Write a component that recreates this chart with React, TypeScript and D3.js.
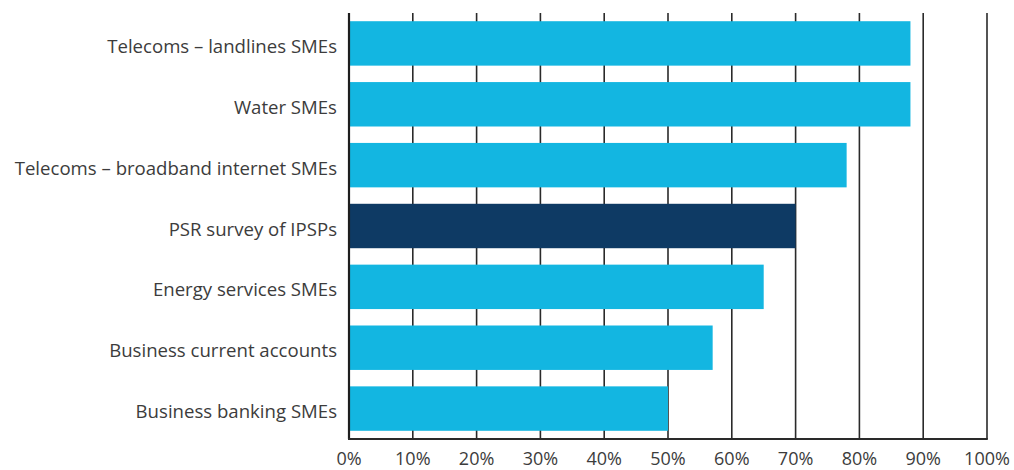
import React from "react";
import * as d3 from "d3";

const categories = [
  "Telecoms – landlines SMEs",
  "Water SMEs",
  "Telecoms – broadband internet SMEs",
  "PSR survey of IPSPs",
  "Energy services SMEs",
  "Business current accounts",
  "Business banking SMEs",
];
const values = [88, 88, 78, 70, 65, 57, 50];
const highlight = [false, false, false, true, false, false, false];
const xTicks = [0, 10, 20, 30, 40, 50, 60, 70, 80, 90, 100];

const W = 1014;
const H = 470;
const left = 349;
const right = 987;
const top = 13;
const bottom = 439;

export default function App() {
  const x = d3.scaleLinear().domain([0, 100]).range([left, right]);
  const y = d3
    .scaleBand<string>()
    .domain(categories)
    .range([top, bottom])
    .paddingInner(0.27)
    .paddingOuter(0.135);

  const font = "'Open Sans', 'Noto Sans', sans-serif";
  const textColor = "#3c3c3c";

  return (
    <div style={{ position: "absolute", left: 0, top: 0 }}>
      <svg width={W} height={H} style={{ display: "block", background: "#fff" }}>
        {/* gridlines */}
        {xTicks.slice(1).map((t) => (
          <line
            key={t}
            x1={x(t)}
            x2={x(t)}
            y1={top}
            y2={bottom}
            stroke="#2a2a2a"
            strokeWidth={1.6}
          />
        ))}
        {/* bars */}
        {categories.map((c, i) => (
          <rect
            key={c}
            x={x(0)}
            y={y(c)!}
            width={x(values[i]) - x(0)}
            height={y.bandwidth()}
            fill={highlight[i] ? "#0e3a64" : "#13b6e1"}
          />
        ))}
        {/* axes */}
        <line x1={x(0)} x2={x(0)} y1={top} y2={bottom} stroke="#1e1e1e" strokeWidth={2.2} />
        <line x1={x(0) - 1} x2={x(100) + 0.8} y1={bottom} y2={bottom} stroke="#2a2a2a" strokeWidth={1.8} />
        {/* x tick labels */}
        {xTicks.map((t) => (
          <text
            key={t}
            x={x(t)}
            y={465}
            textAnchor="middle"
            fontFamily={font}
            fontSize={18}
            fill={textColor}
          >
            {t}%
          </text>
        ))}
        {/* y labels */}
        {categories.map((c) => (
          <text
            key={c}
            x={337}
            y={y(c)! + y.bandwidth() / 2 + 3}
            dy="0.35em"
            textAnchor="end"
            fontFamily={font}
            fontSize={18.6}
            fill={textColor}
          >
            {c}
          </text>
        ))}
      </svg>
    </div>
  );
}
